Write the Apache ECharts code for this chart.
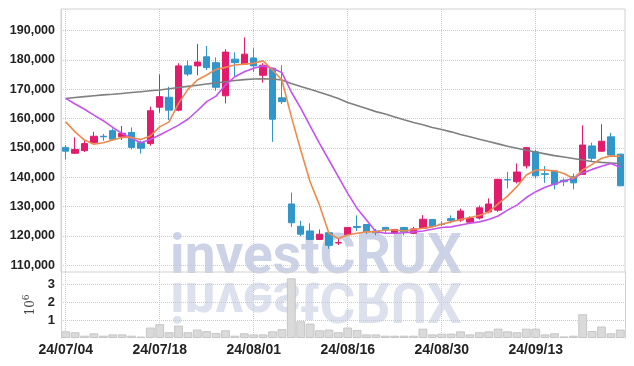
<!DOCTYPE html>
<html>
<head>
<meta charset="utf-8">
<script src="https://cdn.jsdelivr.net/npm/echarts@6/dist/echarts.min.js"></script>
<style>
html, body { margin: 0; padding: 0; background: #fff; }
#main { width: 634px; height: 366px; }
</style>
</head>
<body>
<div id="main"></div>
<script>
var dates = ['24/07/04','24/07/05','24/07/08','24/07/09','24/07/10','24/07/11','24/07/12','24/07/15','24/07/16','24/07/17',
    '24/07/18','24/07/19','24/07/22','24/07/23','24/07/24','24/07/25','24/07/26','24/07/29','24/07/30','24/07/31',
    '24/08/01','24/08/02','24/08/05','24/08/06','24/08/07','24/08/08','24/08/09','24/08/12','24/08/13','24/08/14',
    '24/08/16','24/08/19','24/08/20','24/08/21','24/08/22','24/08/23','24/08/26','24/08/27','24/08/28','24/08/29',
    '24/08/30','24/09/02','24/09/03','24/09/04','24/09/05','24/09/06','24/09/09','24/09/10','24/09/11','24/09/12',
    '24/09/13','24/09/19','24/09/20','24/09/23','24/09/24','24/09/25','24/09/26','24/09/27','24/09/30','24/10/02'];

var openP = [150200,148200,149100,151900,154000,155900,153800,155300,151800,151500,
    163900,167300,162900,178000,178000,181100,179100,167800,180300,178600,
    180700,174800,177200,167100,130900,123300,121700,118800,121100,117600,
    120400,123200,123900,121700,122900,120900,122900,120900,122600,125600,
    124000,125900,125400,124700,126100,128200,128800,139200,138500,143900,
    148700,141200,142200,139000,140200,141000,150700,148900,153800,147900];
var closeP = [148900,149500,151500,154000,153800,153000,155000,150200,149900,162700,
    167500,162900,178000,175200,179300,177400,170700,182700,179100,182000,
    178000,178200,159800,165800,124500,120600,118800,120600,116800,117700,
    122900,122900,121400,121100,122000,122200,121300,122400,125700,123200,
    123900,125200,128500,126100,129600,130900,139300,139100,141800,150100,
    140500,141000,137600,138500,138100,151000,146500,152300,147600,137100];
var lowP = [146100,147900,148600,151600,152500,152800,152700,149500,148100,150800,
    162000,159500,162500,174500,174800,176600,169500,165200,174300,178300,
    176000,172300,152100,165000,123100,119900,118600,118600,115600,116900,
    120300,121700,120600,120200,120600,120600,120200,120600,122400,122900,
    123300,124300,124800,124500,125600,127700,128200,136200,137900,143000,
    139600,138100,135900,137000,135900,140800,145600,148700,147300,137000];
var highP = [151000,153600,152700,155500,154800,156600,157500,157000,152500,164100,
    175100,170900,178900,179800,185500,184800,180900,183700,182600,187700,
    184000,178900,177300,178200,134800,125200,124300,122200,121300,119100,
    123000,127000,124000,122400,123100,122400,123100,123100,127100,125800,
    125000,127000,129300,126700,130400,132800,139500,141900,144700,150400,
    149300,143800,142200,139600,141300,157700,151800,158100,155200,148000];
var volumes = [370000,320000,130000,260000,130000,200000,200000,130000,80000,580000,
    770000,320000,690000,320000,470000,380000,280000,430000,130000,260000,
    200000,200000,370000,490000,3320000,930000,800000,430000,470000,320000,
    580000,450000,200000,200000,130000,130000,130000,130000,520000,200000,
    240000,240000,370000,200000,320000,370000,520000,370000,320000,520000,
    520000,200000,260000,90000,130000,1320000,390000,640000,260000,470000];
var ma5 = [158900,155500,152700,151300,151800,152700,153600,153600,152900,154100,
    157200,158900,165200,170000,173200,174900,176800,177500,178300,178600,
    178900,179700,176600,173200,160700,149300,138500,130500,120900,119100,
    120300,120900,121400,121400,122000,122000,121700,122200,122600,123100,
    124000,124800,125600,126300,127000,128200,130900,133600,136800,140800,
    142500,142500,142200,141300,139600,142500,144400,146500,147300,147200];
var ma10 = [166900,165000,163200,161200,159300,157000,155000,153300,151800,152900,
    154400,156100,157800,159800,162700,165800,167700,171500,174300,176000,
    177200,178000,177200,175700,169100,163600,157500,151600,145900,140200,
    134500,129400,125400,121400,120900,120900,121100,121400,121700,122300,
    122900,123100,123700,124300,124800,125600,126800,128800,130500,133100,
    135100,136600,137700,138800,139600,141500,142700,143800,144700,143400];
var maLong = [166900,167200,167500,167800,168100,168300,168600,168900,169200,169500,
    169800,170200,170600,171000,171400,171800,172200,172600,173000,173300,
    173500,173600,173500,173200,172000,171000,170000,169000,168000,166900,
    165500,164500,163500,162400,161600,160600,159600,158700,157900,157000,
    156300,155500,154600,153800,153000,152200,151400,150600,149900,149200,
    148600,148000,147400,146900,146400,145900,145400,145100,144900,144700];
var priceTicks = [110000,120000,130000,140000,150000,160000,170000,180000,190000];
var volTicks = [1000000,2000000,3000000];

var candleData = [];
for (var i = 0; i < dates.length; i++) {
    candleData.push([openP[i], closeP[i], lowP[i], highP[i]]);
}

var labelFont = "'Liberation Sans', Arial, sans-serif";
var gridDot = { color: '#c5c9dc', type: 'dotted', width: 1 };

var chart = echarts.init(document.getElementById('main'));
var option = {
    animation: false,
    backgroundColor: '#fff',
    grid: [
        { left: 61, right: 9, top: 9, height: 263, show: true, borderColor: '#d2d2d2', borderWidth: 1,
          containLabel: false, outerBoundsMode: 'none' },
        { left: 61, right: 9, top: 272, height: 66, containLabel: false, outerBoundsMode: 'none' }
    ],
    graphic: [
        {
            type: 'text', x: 316, y: 259, z: -10, silent: true,
            style: {
                text: 'investCRUX', fill: '#cdd3e6',
                font: 'bold 55px Roboto, sans-serif',
                align: 'center', verticalAlign: 'middle',
                textAlign: 'center', textVerticalAlign: 'middle'
            }
        },
        {
            type: 'text', x: 316, y: 297, scaleY: -1, z: -10, silent: true,
            style: {
                text: 'investCRUX', fill: '#dde1ee',
                font: 'bold 55px Roboto, sans-serif',
                align: 'center', verticalAlign: 'middle',
                textAlign: 'center', textVerticalAlign: 'middle'
            }
        }
    ],
    xAxis: [
        {
            type: 'category', gridIndex: 0, data: dates, boundaryGap: true,
            axisLine: { show: false }, axisTick: { show: false }, axisLabel: { show: false },
            splitLine: { show: true, interval: 9, alignWithLabel: true, lineStyle: gridDot }
        },
        {
            type: 'category', gridIndex: 1, data: dates, boundaryGap: true,
            axisLine: { show: false }, axisTick: { show: false },
            axisLabel: {
                interval: 9, margin: 5, color: '#222',
                fontFamily: labelFont, fontSize: 14, fontWeight: 'bold'
            },
            splitLine: { show: true, interval: 9, alignWithLabel: true, lineStyle: gridDot }
        }
    ],
    yAxis: [
        {
            type: 'value', gridIndex: 0, min: 107700, max: 197400, scale: true,
            axisLine: { show: true, lineStyle: { color: '#d2d2d2' } },
            axisTick: { show: false, customValues: priceTicks },
            axisLabel: {
                customValues: priceTicks, color: '#222', margin: 6,
                fontFamily: labelFont, fontSize: 12.5, fontWeight: 'bold',
                formatter: function (v) { return v.toLocaleString('en-US'); }
            },
            splitLine: { show: true, lineStyle: gridDot }
        },
        {
            type: 'value', gridIndex: 1, min: 0, max: 3670000,
            name: '{a|10}{b|6}', nameLocation: 'middle', nameGap: 15, nameRotate: 90,
            nameTextStyle: {
                rich: {
                    a: { fontSize: 12, color: '#444', fontFamily: 'DejaVu Serif' },
                    b: { fontSize: 9, color: '#444', fontFamily: 'DejaVu Serif', verticalAlign: 'top', padding: [0, 0, 8, 0] }
                }
            },
            axisLine: { show: true, lineStyle: { color: '#d2d2d2' } },
            axisTick: { show: false, customValues: volTicks },
            axisLabel: {
                customValues: volTicks, color: '#222', margin: 6,
                fontFamily: labelFont, fontSize: 13, fontWeight: 'bold',
                formatter: function (v) { return String(v / 1000000); }
            },
            splitLine: { show: true, lineStyle: gridDot }
        },
        {
            type: 'value', gridIndex: 1, position: 'right', min: 0, max: 3670000,
            axisLine: { show: true, lineStyle: { color: '#d2d2d2' } },
            axisTick: { show: false }, axisLabel: { show: false }, splitLine: { show: false }
        }
    ],
    series: [
        {
            type: 'candlestick', xAxisIndex: 0, yAxisIndex: 0, data: candleData,
            barWidth: 7, z: 2,
            itemStyle: {
                color: '#e31b6c', borderColor: '#e31b6c',
                color0: '#3196c9', borderColor0: '#3196c9', borderWidth: 1
            }
        },
        {
            type: 'line', xAxisIndex: 0, yAxisIndex: 0, data: maLong, symbol: 'none', z: 3,
            lineStyle: { color: '#7f7f7f', width: 1.6 }
        },
        {
            type: 'line', xAxisIndex: 0, yAxisIndex: 0, data: ma10, symbol: 'none', z: 3,
            lineStyle: { color: '#c651ef', width: 1.6 }
        },
        {
            type: 'line', xAxisIndex: 0, yAxisIndex: 0, data: ma5, symbol: 'none', z: 3,
            lineStyle: { color: '#ef8a4c', width: 1.6 }
        },
        {
            type: 'bar', xAxisIndex: 1, yAxisIndex: 1, data: volumes, barWidth: '94%',
            itemStyle: { color: '#dadada', borderColor: '#c6c6c6', borderWidth: 1 }
        }
    ]
};
chart.setOption(option);
</script>
</body>
</html>
